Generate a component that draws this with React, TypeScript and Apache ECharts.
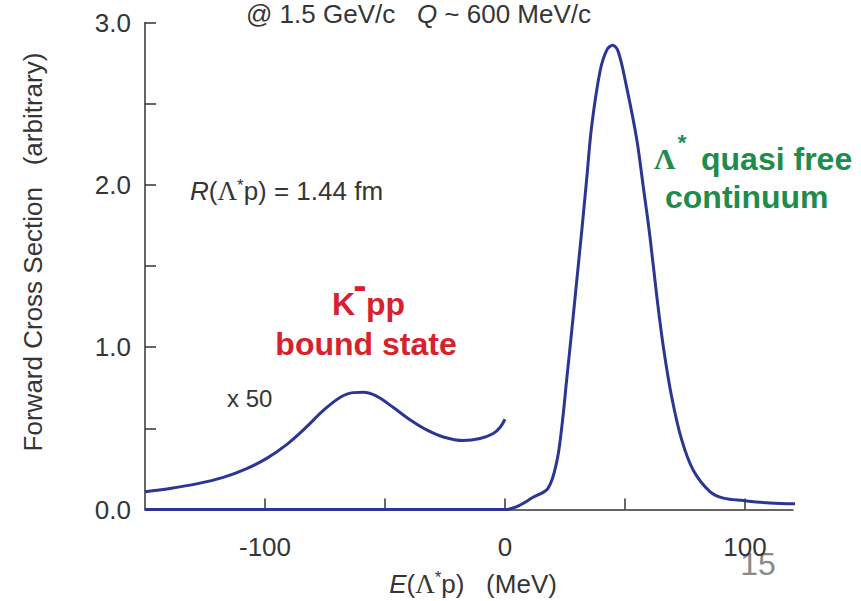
import React, { useEffect, useRef } from 'react';
import * as echarts from 'echarts';

// Λ* quasi-free continuum (main curve), E in MeV vs cross section
const continuumE = [-150, 0, 4.9, 11.7, 17.9, 21.5, 23.6, 25.7, 27.8, 29.9, 32.0, 34.0, 36.1, 39.6, 42.4, 44.9, 47.2, 50.7, 54.9, 57.6, 60.4, 63.2, 66.0, 69.5, 73.6, 78.5, 85.4, 91.0, 99.3, 110.4, 121.5];
const continuumSigma = [0, 0, 0.017, 0.075, 0.13, 0.29, 0.5, 0.8, 1.1, 1.41, 1.72, 2.03, 2.36, 2.7, 2.83, 2.86, 2.82, 2.6, 2.28, 1.99, 1.68, 1.32, 1.0, 0.69, 0.43, 0.24, 0.11, 0.07, 0.055, 0.04, 0.035];

// K-pp bound state (x 50)
const boundE = [-150, -139.6, -128.5, -117.4, -107.6, -99.3, -91.0, -82.6, -75.7, -68.75, -63.2, -59.0, -53.5, -46.5, -39.6, -32.6, -25.7, -17.4, -10.4, -4.9, -2.1, 0];
const boundSigma = [0.11, 0.13, 0.158, 0.198, 0.252, 0.315, 0.4, 0.51, 0.61, 0.69, 0.72, 0.722, 0.698, 0.628, 0.553, 0.49, 0.447, 0.425, 0.437, 0.468, 0.505, 0.556];

const xTickValues = [-100, -50, 0, 50, 100];
const xLabelValues = [-100, 0, 100];
const yLabelValues = [0, 1, 2, 3];

const FONT = 'Liberation Sans';
const SERIF = 'Liberation Serif';
const TXT = '#353535';
const BLUE = '#2b3694';
const RED = '#d8212c';
const GREEN = '#1f8c4b';

const zip = (xs: number[], ys: number[]) => xs.map((x, i) => [x, ys[i]]);

export default function App() {
  const ref = useRef<HTMLDivElement>(null);
  useEffect(() => {
    if (!ref.current) return;
    const chart = echarts.init(ref.current, null, { renderer: 'svg' });
    const base = { fontFamily: FONT, fontSize: 26, fill: TXT };
    const italicOnly = {
      i: { fontFamily: FONT, fontSize: 26, fontStyle: 'italic', fill: TXT },
    };
    const rich26 = {
      i: { fontFamily: FONT, fontSize: 26, fontStyle: 'italic', fill: TXT },
      l: { fontFamily: SERIF, fontSize: 27, fill: TXT },
      s: { fontFamily: FONT, fontSize: 17, fill: TXT, padding: [0, 0, 12, 0] },
    };
    chart.setOption({
      animation: false,
      backgroundColor: '#ffffff',
      grid: { left: 145, top: 22.5, width: 648, height: 487 },
      xAxis: {
        type: 'value',
        min: -150,
        max: 120,
        splitLine: { show: false },
        axisLine: { show: true, onZero: false, lineStyle: { color: '#333', width: 1.5 } },
        axisTick: { show: true, inside: true, length: 11, customValues: xTickValues, lineStyle: { color: '#333', width: 1.5 } },
        axisLabel: { customValues: xLabelValues, margin: 24, fontSize: 26, fontFamily: FONT, color: TXT },
      },
      yAxis: {
        type: 'value',
        min: 0,
        max: 3,
        interval: 0.5,
        splitLine: { show: false },
        axisLine: { show: true, onZero: false, lineStyle: { color: '#333', width: 1.5 } },
        axisTick: { show: true, inside: true, length: 11, lineStyle: { color: '#333', width: 1.5 } },
        axisLabel: {
          customValues: yLabelValues,
          margin: 14,
          fontSize: 26,
          fontFamily: FONT,
          color: TXT,
          formatter: (v: number) => v.toFixed(1),
        },
      },
      series: [
        {
          type: 'line',
          data: zip(continuumE, continuumSigma),
          showSymbol: false,
          smooth: 0.35,
          clip: false,
          lineStyle: { color: BLUE, width: 3 },
        },
        {
          type: 'line',
          data: zip(boundE, boundSigma),
          showSymbol: false,
          smooth: 0.35,
          clip: false,
          lineStyle: { color: BLUE, width: 3 },
        },
      ],
      graphic: [
        {
          type: 'text', x: 246, y: 14,
          style: { ...base, text: '@ 1.5 GeV/c   {i|Q} ~ 600 MeV/c', rich: italicOnly, align: 'left', verticalAlign: 'middle' },
        },
        {
          type: 'text', x: 33, y: 252, rotation: Math.PI / 2,
          style: { ...base, text: 'Forward Cross Section   (arbitrary)', align: 'center', verticalAlign: 'middle' },
        },
        {
          type: 'text', x: 190, y: 191,
          style: { ...base, text: '{i|R}({l|Λ}{s|*}p) = 1.44 fm', rich: rich26, align: 'left', verticalAlign: 'middle' },
        },
        {
          type: 'text', x: 227, y: 398.5,
          style: { ...base, fontSize: 24, text: 'x 50', align: 'left', verticalAlign: 'middle' },
        },
        {
          type: 'text', x: 332, y: 304,
          style: { fontFamily: FONT, fontSize: 32, fontWeight: 'bold', fill: RED, text: 'K', align: 'left', verticalAlign: 'middle' },
        },
        {
          type: 'text', x: 360, y: 285,
          style: { fontFamily: FONT, fontSize: 40, fontWeight: 'bold', fill: RED, text: '-', align: 'center', verticalAlign: 'middle' },
        },
        {
          type: 'text', x: 366, y: 304,
          style: { fontFamily: FONT, fontSize: 32, fontWeight: 'bold', fill: RED, text: 'pp', align: 'left', verticalAlign: 'middle' },
        },
        {
          type: 'text', x: 366, y: 344,
          style: { fontFamily: FONT, fontSize: 32, fontWeight: 'bold', fill: RED, text: 'bound state', align: 'center', verticalAlign: 'middle' },
        },
        {
          type: 'text', x: 654, y: 158,
          style: { fontFamily: SERIF, fontSize: 30, fontWeight: 'bold', fill: GREEN, text: 'Λ', align: 'left', verticalAlign: 'middle' },
        },
        {
          type: 'text', x: 682, y: 142,
          style: { fontFamily: FONT, fontSize: 22, fontWeight: 'bold', fill: GREEN, text: '*', align: 'center', verticalAlign: 'middle' },
        },
        {
          type: 'text', x: 701, y: 159,
          style: { fontFamily: FONT, fontSize: 32, fontWeight: 'bold', fill: GREEN, text: 'quasi free', align: 'left', verticalAlign: 'middle' },
        },
        {
          type: 'text', x: 665, y: 197,
          style: { fontFamily: FONT, fontSize: 32, fontWeight: 'bold', fill: GREEN, text: 'continuum', align: 'left', verticalAlign: 'middle' },
        },
        {
          type: 'text', x: 473, y: 583.5,
          style: { ...base, text: '{i|E}({l|Λ}{s|*}p)   (MeV)', rich: rich26, align: 'center', verticalAlign: 'middle' },
        },
        {
          type: 'text', x: 758, y: 564,
          style: { fontFamily: FONT, fontSize: 32, fill: '#8a8a8a', text: '15', align: 'center', verticalAlign: 'middle' },
        },
      ],
    });
    return () => chart.dispose();
  }, []);
  return <div ref={ref} style={{ position: 'fixed', left: 0, top: 0, width: 861, height: 601 }} />;
}
